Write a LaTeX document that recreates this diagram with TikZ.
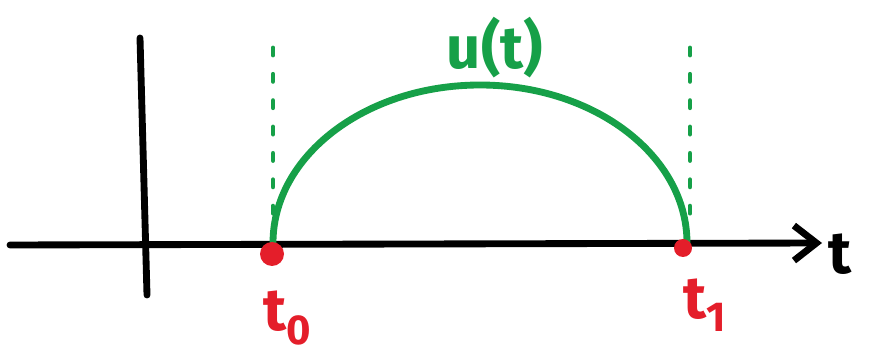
\documentclass[tikz,border=0pt]{standalone}
\usepackage{fontspec}
\setmainfont{Fira Sans}
\usepackage{tikz}
\usetikzlibrary{arrows.meta,positioning,calc}
\definecolor{curvegreen}{RGB}{22,160,72}
\definecolor{markred}{RGB}{228,30,42}

\begin{document}
\begin{tikzpicture}[
      x=0.02cm, y=0.02cm,
      axis/.style={line width=3.9pt, line cap=round, black},
      wave/.style={line width=3.9pt, line cap=round, curvegreen},
      bound/.style={line width=2.8pt, line cap=round, curvegreen,
                    dash pattern=on 4pt off 11pt},
      endpt/.style={circle, fill=markred, inner sep=0pt},
      lbl/.style={font=\fontsize{34}{40}\selectfont\bfseries, inner sep=0pt},
    ]
    \useasboundingbox (0,0) rectangle (871,354);

    % axes
    \coordinate (xstart) at (10,109);
    \coordinate (xend) at (822,111);
    \coordinate (ytop) at (140,316);
    \coordinate (ybot) at (147,59);
    \draw[axis, -{Straight Barb[length=4.5mm, width=7mm]}] (xstart) -- (xend);
    \draw[axis] (ytop) -- (ybot);
    \node[lbl, anchor=west] (tlab) at (828,100) {t};

    % interval bounds
    \coordinate (lefttop) at (273,306);
    \coordinate (leftbot) at (273,124);
    \coordinate (righttop) at (690,306);
    \coordinate (rightbot) at (690,124);
    \draw[bound] (lefttop) -- (leftbot);
    \draw[bound] (righttop) -- (rightbot);

    % the pulse
    \draw[wave] (273,111) arc[start angle=180, end angle=0,
                             x radius=207, y radius=158];
    \node[lbl, curvegreen] (ulab) at (495,306) {u(t)};

    % end points
    \node[endpt, minimum size=0.48cm] (t0) at (272,100) {};
    \node[endpt, minimum size=0.36cm] (t1) at (683,106) {};
    \node[lbl, markred] (t0lab) at (288,36) {t\textsubscript{0}};
    \node[lbl, markred] (t1lab) at (705,49) {t\textsubscript{1}};
  \end{tikzpicture}
\end{document}
